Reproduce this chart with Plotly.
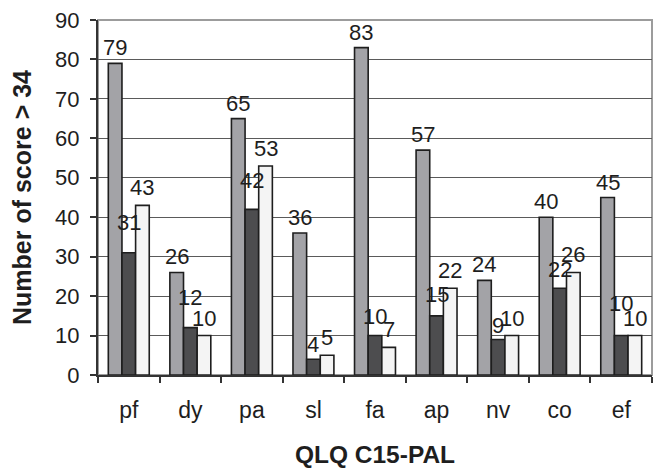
import plotly.graph_objects as go

# QLQ C15-PAL scales and the count of scores above 34 in each of three groups
categories = ["pf", "dy", "pa", "sl", "fa", "ap", "nv", "co", "ef"]
group_1 = [79, 26, 65, 36, 83, 57, 24, 40, 45]
group_2 = [31, 12, 42, 4, 10, 15, 9, 22, 10]
group_3 = [43, 10, 53, 5, 7, 22, 10, 26, 10]
y_ticks = [0, 10, 20, 30, 40, 50, 60, 70, 80, 90]

series = [
    ("Group 1", group_1, "#a3a3a7"),
    ("Group 2", group_2, "#4d4d4f"),
    ("Group 3", group_3, "#f4f4f4"),
]

# pixel lift of each value label above its bar (dark labels are staggered
# so they clear the neighbouring labels)
label_lift = [
    [2] * 9,
    [17, 17, 15, 1, 6, 8, 1, 5, 19],
    [4] * 9,
]

FONT = "Liberation Sans, Arial, sans-serif"
TEXT = "#1e1e1e"

W, H = 659, 469
M = dict(l=98, r=7, t=20, b=94)
BARGAP = 0.335

fig = go.Figure()
for name, vals, color in series:
    fig.add_trace(go.Bar(
        name=name, x=categories, y=vals,
        marker=dict(color=color, line=dict(color="#1e1e1e", width=1.6)),
        showlegend=False, hoverinfo="x+y",
    ))

# value labels above each bar, shifted sideways onto their own bar
plot_w = W - M["l"] - M["r"]
bar_px = plot_w / len(categories) * (1 - BARGAP) / len(series)
annotations = []
for i, (name, vals, color) in enumerate(series):
    for j, (cat, v) in enumerate(zip(categories, vals)):
        annotations.append(dict(
            x=cat, y=v, xref="x", yref="y", text=str(v), showarrow=False,
            xanchor="center", yanchor="bottom", borderpad=0,
            xshift=(i - 1) * bar_px, yshift=label_lift[i][j],
            font=dict(family=FONT, size=22, color=TEXT),
        ))

fig.update_layout(
    width=W, height=H, margin=M,
    paper_bgcolor="white", plot_bgcolor="white",
    barmode="group", bargap=BARGAP, bargroupgap=0,
    font=dict(family=FONT, color=TEXT),
    annotations=annotations,
    shapes=[dict(type="rect", xref="paper", yref="paper", x0=0, y0=0, x1=1, y1=1,
                 line=dict(color="#9c9c9c", width=2), layer="below")],
)
fig.update_xaxes(
    type="category", showline=True, linecolor="#333", linewidth=2,
    ticks="outside", tickson="boundaries", ticklen=6, tickcolor="#333", tickwidth=1.5,
    tickfont=dict(size=23, family=FONT, color=TEXT), ticklabelstandoff=13,
    title=dict(text="<b>QLQ C15-PAL</b>", font=dict(size=24.5, family=FONT, color=TEXT), standoff=24),
    showgrid=False, automargin=False,
)
fig.update_yaxes(
    range=[0, 90], tickvals=y_ticks, showline=True, linecolor="#333", linewidth=2,
    ticks="outside", ticklen=6, tickcolor="#333", tickwidth=1.5,
    tickfont=dict(size=22, family=FONT, color=TEXT), ticklabelstandoff=6,
    showgrid=True, gridcolor="#5a5a5a", gridwidth=1, zeroline=False,
    title=dict(text="<b>Number of score > 34</b>", font=dict(size=25, family=FONT, color=TEXT), standoff=16),
    automargin=False,
)

fig.write_html("out.html")
